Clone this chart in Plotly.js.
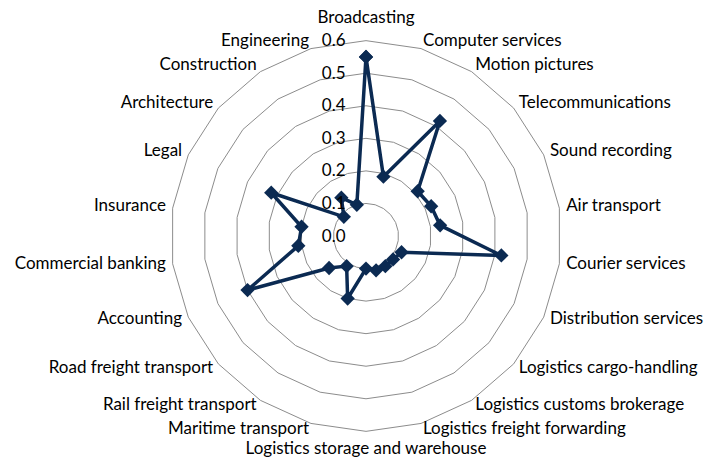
<!DOCTYPE html>
<html>
<head>
<meta charset="utf-8">
<script src="https://cdn.plot.ly/plotly-3.0.1.min.js"></script>
<style>
  body { margin: 0; background: #fff; }
  #radar { width: 707px; height: 459px; }
</style>
</head>
<body>
<div id="radar"></div>
<script>
// Sectors, clockwise from the top
var sectors = [
    'Broadcasting', 'Computer services', 'Motion pictures', 'Telecommunications',
    'Sound recording', 'Air transport', 'Courier services', 'Distribution services',
    'Logistics cargo-handling', 'Logistics customs brokerage', 'Logistics freight forwarding',
    'Logistics storage and warehouse', 'Maritime transport', 'Rail freight transport',
    'Road freight transport', 'Accounting', 'Commercial banking', 'Insurance',
    'Legal', 'Architecture', 'Construction', 'Engineering'
];

var scores = [
    0.55, 0.19, 0.42, 0.21, 0.22, 0.23, 0.42, 0.12,
    0.11, 0.11, 0.11, 0.10, 0.20, 0.11, 0.15, 0.40,
    0.21, 0.20, 0.32, 0.09, 0.14, 0.10
];

var radialTicks = [0, 0.1, 0.2, 0.3, 0.4, 0.5, 0.6];

var rMax = 0.6;
var rOuter = 0.645;   // a little room past the last ring for the category labels
var navy = '#0b2a52';

// close the loop
var r = scores.concat([scores[0]]);
var theta = sectors.concat([sectors[0]]);

// category labels sit just outside the outer ring, Excel style
var n = sectors.length;
var labelR = [], labelPos = [];
sectors.forEach(function(s, i) {
    var a = i * 360 / n;
    if (a === 0) {
        labelR.push(rMax * 1.07); labelPos.push('top center');
    } else if (a === 180) {
        labelR.push(rMax * 1.05); labelPos.push('bottom center');
    } else if (a < 180) {
        labelR.push(rMax * 1.035); labelPos.push('middle right');
    } else {
        labelR.push(rMax * 1.035); labelPos.push('middle left');
    }
});

var radarData = [{
    type: 'scatterpolar',
    r: r,
    theta: theta,
    mode: 'lines+markers',
    line: {color: navy, width: 3.5},
    marker: {symbol: 'diamond', size: 11, color: navy},
    hoverinfo: 'skip'
}, {
    type: 'scatterpolar',
    r: labelR,
    theta: sectors,
    mode: 'text',
    text: sectors,
    textposition: labelPos,
    textfont: {size: 17, color: '#000000'},
    cliponaxis: false,
    hoverinfo: 'skip'
}];

var layout = {
    width: 707,
    height: 459,
    margin: {l: 25, r: 0, t: 26, b: 13},
    paper_bgcolor: '#ffffff',
    showlegend: false,
    font: {family: 'Lato, "Open Sans", sans-serif', size: 17, color: '#000000'},
    polar: {
        bgcolor: '#ffffff',
        gridshape: 'linear',
        radialaxis: {
            range: [0, rOuter],
            tickvals: radialTicks,
            tickformat: '.1f',
            angle: 90,
            tickangle: 90,
            side: 'counterclockwise',
            showline: false,
            ticks: 'outside',
            ticklen: 14,
            tickcolor: 'rgba(0,0,0,0)',
            gridcolor: '#8c8c8c',
            gridwidth: 1,
            tickfont: {size: 17}
        },
        angularaxis: {
            direction: 'clockwise',
            rotation: 90,
            showgrid: false,
            showline: false,
            showticklabels: false,
            ticks: ''
        }
    }
};

Plotly.newPlot('radar', radarData, layout, {displayModeBar: false, staticPlot: true});
</script>
</body>
</html>
